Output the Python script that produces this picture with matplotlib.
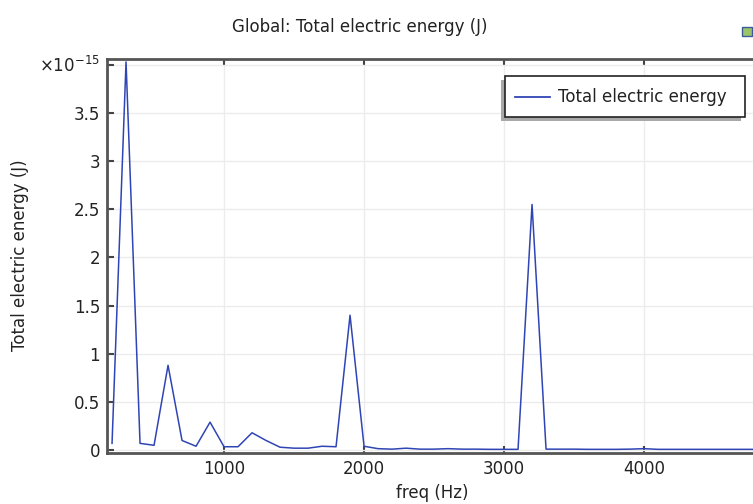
import matplotlib.pyplot as plt
from matplotlib.patches import Rectangle

# frequency sweep, 100 Hz steps
freq = [200, 300, 400, 500, 600, 700, 800, 900, 1000, 1100,
        1200, 1300, 1400, 1500, 1600, 1700, 1800, 1900, 2000, 2100,
        2200, 2300, 2400, 2500, 2600, 2700, 2800, 2900, 3000, 3100,
        3200, 3300, 3400, 3500, 3600, 3700, 3800, 3900, 4000, 4100,
        4200, 4300, 4400, 4500, 4600, 4700, 4800, 4900, 5000]
# total electric energy in units of 1e-15 J
energy = [0.07, 4.03, 0.07, 0.05, 0.88, 0.10, 0.04, 0.29, 0.035, 0.035,
          0.18, 0.10, 0.03, 0.02, 0.02, 0.04, 0.035, 1.40, 0.04, 0.015,
          0.01, 0.02, 0.01, 0.01, 0.015, 0.01, 0.01, 0.008, 0.008, 0.008,
          2.55, 0.01, 0.01, 0.01, 0.008, 0.008, 0.008, 0.01, 0.015, 0.008,
          0.008, 0.008, 0.008, 0.008, 0.008, 0.008, 0.008, 0.008, 0.008]

yticks = [0, 0.5, 1, 1.5, 2, 2.5, 3, 3.5, 4]
ytick_labels = ['0', '0.5', '1', '1.5', '2', '2.5', '3', '3.5', '']
xticks = [1000, 2000, 3000, 4000]

W, H = 753, 504
fs = 12
fig = plt.figure(figsize=(W / 100, H / 100), dpi=100)
fig.patch.set_facecolor('white')

# axes run off the right edge like the screenshot
x0, x1 = 164, 5000
ax_left, ax_bottom, ax_top = 107, 453, 59
ax_w = (x1 - x0) * 0.14
ax = fig.add_axes([ax_left / W, 1 - ax_bottom / H, ax_w / W, (ax_bottom - ax_top) / H])

ax.plot(freq, energy, color='#2f45b5', linewidth=1.1, label='Total electric energy')

ax.set_xlim(x0, x1)
ax.set_ylim(-0.03, 4.06)
ax.set_xticks(xticks)
ax.set_yticks(yticks)
ax.set_yticklabels(ytick_labels)
ax.grid(True, color='#ececec', linewidth=1)
ax.set_axisbelow(True)
ax.tick_params(direction='in', length=5, width=1.5, colors='#444444',
               top=True, labelsize=fs, labelcolor='#222222', pad=5)
for sp in ax.spines.values():
    sp.set_color('#555555')
    sp.set_linewidth(2)

fig.text(100 / W, 1 - 66 / H, r'$\times\mathregular{10^{-15}}$', ha='right', va='center',
         fontsize=fs, color='#222222')
fig.text(360 / W, 1 - 27 / H, 'Global: Total electric energy (J)', ha='center', va='center',
         fontsize=fs, color='#222222')
fig.text(432 / W, 1 - 493 / H, 'freq (Hz)', ha='center', va='center',
         fontsize=fs, color='#222222')
fig.text(20 / W, 1 - 255 / H, 'Total electric energy (J)', ha='center', va='center',
         rotation=90, fontsize=fs, color='#222222')

# legend box with shadow (shadow sits left and below)
lx0, ly0, lx1, ly1 = 505, 76, 745, 117
fig.patches.append(Rectangle(((lx0 - 4) / W, 1 - (ly1 + 4) / H), (lx1 - lx0) / W, (ly1 - ly0) / H,
                             transform=fig.transFigure, facecolor='#a8a8a8', edgecolor='none'))
fig.patches.append(Rectangle((lx0 / W, 1 - ly1 / H), (lx1 - lx0) / W, (ly1 - ly0) / H,
                             transform=fig.transFigure, facecolor='white', edgecolor='#222222',
                             linewidth=1.2))
ym = (ly0 + ly1) / 2
fig.lines.append(plt.Line2D([515 / W, 550 / W], [1 - ym / H, 1 - ym / H],
                            transform=fig.transFigure, color='#2f45b5', linewidth=1.3))
fig.text(558 / W, 1 - ym / H, 'Total electric energy', ha='left', va='center',
         fontsize=fs, color='#222222')

# little toolbar icon in the corner
fig.patches.append(Rectangle((742 / W, 1 - 36 / H), 10 / W, 9 / H, transform=fig.transFigure,
                             facecolor='#9bc46a', edgecolor='#3a5a9a', linewidth=1))

fig.savefig('out.png', dpi=100)
